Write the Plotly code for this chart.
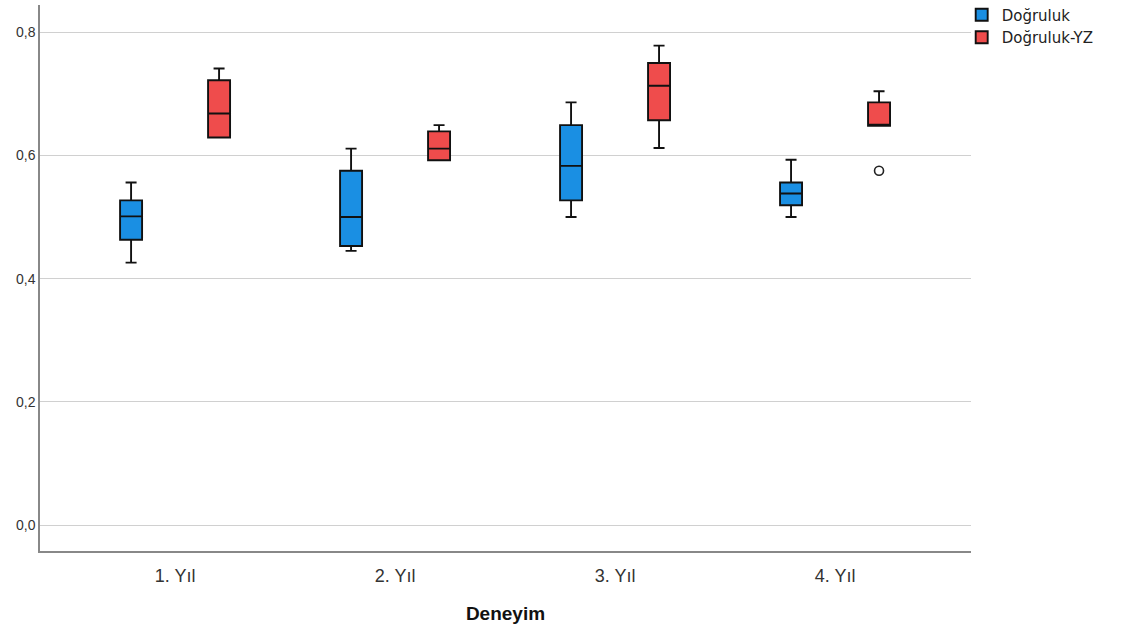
import plotly.graph_objects as go

categories = ["1. Yıl", "2. Yıl", "3. Yıl", "4. Yıl"]

# Doğruluk (blue)
acc_lower = [0.426, 0.445, 0.500, 0.500]
acc_q1 = [0.463, 0.453, 0.527, 0.519]
acc_median = [0.501, 0.500, 0.583, 0.538]
acc_q3 = [0.527, 0.575, 0.649, 0.556]
acc_upper = [0.556, 0.611, 0.686, 0.593]

# Doğruluk-YZ (red)
yz_lower = [0.629, 0.592, 0.612, 0.648]
yz_q1 = [0.629, 0.592, 0.657, 0.648]
yz_median = [0.668, 0.611, 0.713, 0.648]
yz_q3 = [0.722, 0.639, 0.750, 0.686]
yz_upper = [0.741, 0.649, 0.778, 0.704]
yz_outlier_x = ["4. Yıl"]
yz_outlier_y = [0.575]

y_ticks = [0.0, 0.2, 0.4, 0.6, 0.8]

blue = "#1a8fe3"
red = "#ef4c4c"

fig = go.Figure()
fig.add_trace(go.Box(
    name="Doğruluk", x=categories, orientation="v",
    q1=acc_q1, median=acc_median, q3=acc_q3,
    lowerfence=acc_lower, upperfence=acc_upper,
    fillcolor=blue, line=dict(color="#111111", width=1.9),
    whiskerwidth=0.5, boxpoints=False, offsetgroup="1",
))
fig.add_trace(go.Box(
    name="Doğruluk-YZ", x=categories, orientation="v",
    q1=yz_q1, median=yz_median, q3=yz_q3,
    lowerfence=yz_lower, upperfence=yz_upper,
    fillcolor=red, line=dict(color="#111111", width=1.9),
    whiskerwidth=0.5, boxpoints=False, offsetgroup="2",
))
# placeholder for the grouping slot of the first series (no outliers)
fig.add_trace(go.Scatter(
    x=categories, y=[None] * len(categories), mode="markers",
    offsetgroup="1", showlegend=False, hoverinfo="skip",
    marker=dict(color="rgba(0,0,0,0)"),
))
fig.add_trace(go.Scatter(
    x=yz_outlier_x, y=yz_outlier_y, mode="markers",
    offsetgroup="2", showlegend=False,
    marker=dict(symbol="circle-open", size=9, color="#222222", line=dict(width=1.6)),
))

fig.update_layout(
    width=1126, height=634,
    margin=dict(l=40, r=155, t=5, b=83, autoexpand=False),
    paper_bgcolor="white", plot_bgcolor="white",
    boxmode="group", boxgap=0.2, boxgroupgap=0.75,
    scattermode="group", scattergap=0.2,
    separators=",.",
    font=dict(family="Liberation Sans, Arial, sans-serif", color="#222222"),
    showlegend=True,
    legend=dict(x=0.99, xanchor="left", y=1.012, yanchor="top",
                font=dict(size=15, color="#222222", family="DejaVu Sans, sans-serif"),
                tracegroupgap=0, itemwidth=30,
                bgcolor="rgba(0,0,0,0)"),
    xaxis=dict(
        range=[-0.614, 3.618],
        showgrid=False, showline=True, linecolor="#888888", linewidth=1.5,
        ticks="", ticklabelstandoff=8,
        tickfont=dict(size=18, color="#333333",
                      family="Liberation Sans Narrow, Arial Narrow, Liberation Sans, sans-serif"),
        title=dict(text="<b>Deneyim</b>", font=dict(size=19, color="#111111"), standoff=21),
        zeroline=False,
    ),
    yaxis=dict(
        range=[-0.042, 0.844],
        tickvals=y_ticks, tickformat=".1f",
        showgrid=True, gridcolor="#d0d0d0", gridwidth=1.2,
        showline=True, linecolor="#888888", linewidth=1.5,
        ticks="", tickfont=dict(size=14, color="#333333"),
        zeroline=False,
    ),
)

fig.write_html("out.html", config={"displayModeBar": False},
               post_script="document.body.style.margin='0';")
